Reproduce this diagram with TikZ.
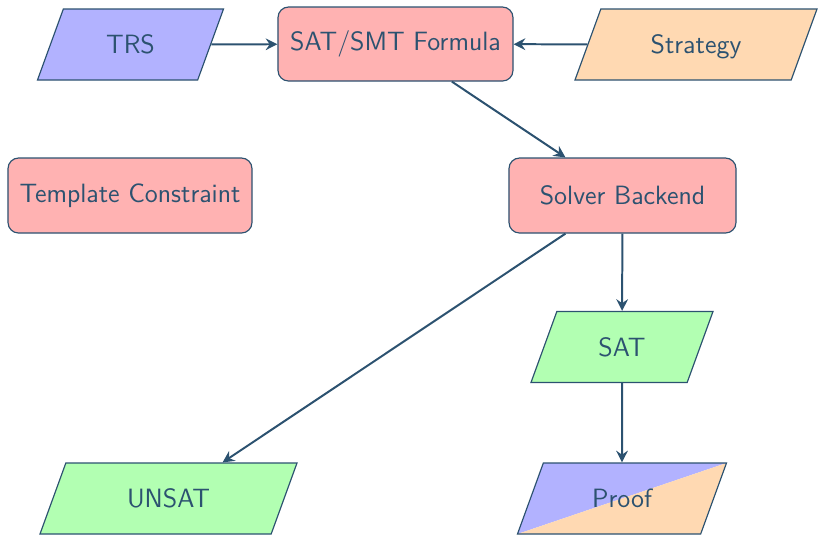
\documentclass[tikz,border=0pt]{standalone}
\usetikzlibrary{shapes.geometric,arrows.meta}
\definecolor{ink}{RGB}{44,82,112}
\tikzset{
  base/.style={draw=ink, text=ink, font=\sffamily\fontsize{11.3}{13.6}\selectfont, line width=0.5pt, inner sep=0pt},
  procbox/.style={base, rectangle, rounded corners=4.5pt, fill=red!30},
  iobox/.style={base, trapezium, trapezium left angle=70, trapezium right angle=110,
    trapezium stretches body, text height=7.8pt, text depth=0pt, inner ysep=11.25pt, inner xsep=4pt},
  flow/.style={draw=ink, line width=0.85pt, -{Stealth[length=5pt,width=5pt,inset=1.7pt]}}
}
\begin{document}
\begin{tikzpicture}[x=0.015cm, y=-0.015cm]
\useasboundingbox (0,0) rectangle (818,534);

% input / output parallelograms
\node[iobox, fill=blue!30, minimum width=2.79cm] (trs) at (130.5,44.5) {TRS};
\node[iobox, fill=orange!30, minimum width=3.63cm] (strat) at (696,44.5) {Strategy};
\node[iobox, fill=green!30, minimum width=2.73cm] (sat) at (622,347) {SAT};
\node[iobox, fill=green!30, minimum width=3.855cm] (unsat) at (168.5,498.5) {UNSAT};
\node[iobox, minimum width=3.135cm,
  path picture={
    \fill[blue!30] (path picture bounding box.south west) -- (path picture bounding box.north east)
      -- (path picture bounding box.north west) -- cycle;
    \fill[orange!30] (path picture bounding box.south west) -- (path picture bounding box.north east)
      -- (path picture bounding box.south east) -- cycle;
  }] (proof) at (622,498.5) {Proof};

% processing boxes
\node[procbox, minimum width=3.525cm, minimum height=1.11cm] (formula) at (395.5,44) {SAT/SMT Formula};
\node[procbox, minimum width=3.66cm, minimum height=1.125cm] (template) at (130,195.5) {Template Constraint};
\node[procbox, minimum width=3.405cm, minimum height=1.125cm] (solver) at (622.5,195.5) {Solver Backend};

% connectors
\draw[flow] (trs) -- (formula);
\draw[flow] (strat) -- (formula);
\draw[flow] (formula) -- (solver);
\draw[flow] (solver) -- (unsat);
\draw[flow] (solver) -- (sat);
\draw[flow] (sat) -- (proof);
\end{tikzpicture}
\end{document}
